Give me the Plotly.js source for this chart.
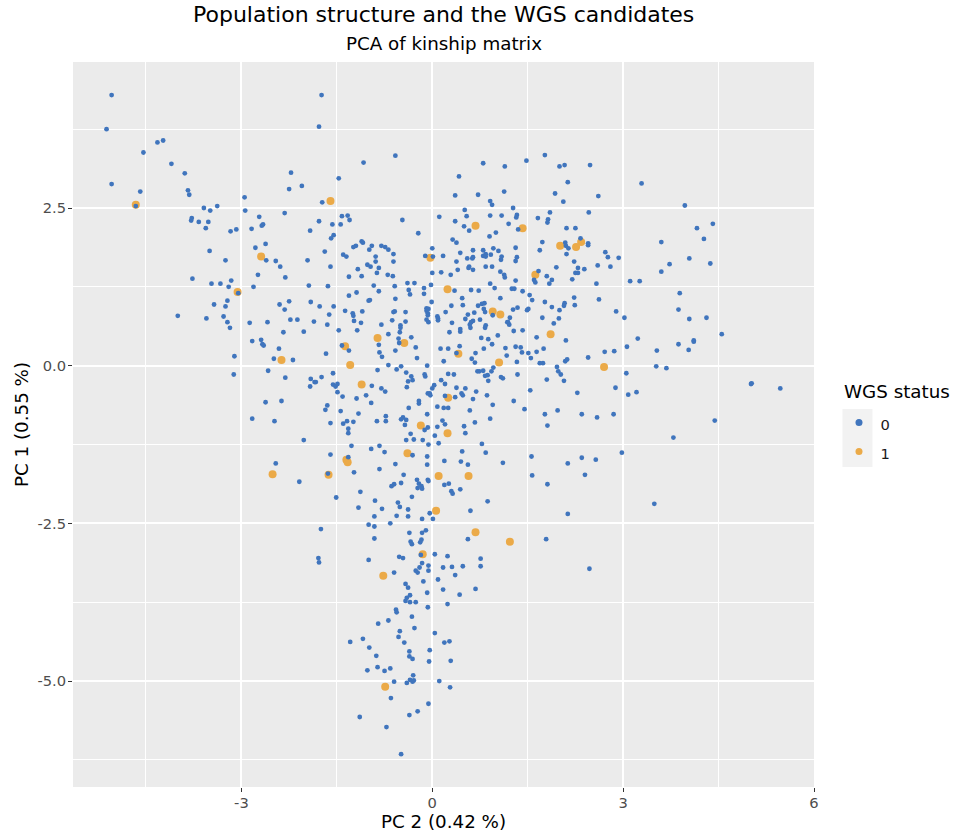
<!DOCTYPE html>
<html><head><meta charset="utf-8">
<script src="https://cdn.plot.ly/plotly-3.0.1.min.js"></script>
<style>html,body{margin:0;padding:0;background:#fff}</style></head>
<body><div id="chart" style="width:959px;height:833px"></div>
<script>
// [PC 2, PC 1] pairs
const status0 = [
[-5.04,4.29],[-5.12,3.75],[-4.32,3.54],[-4.23,3.57],[-4.54,3.38],[-4.10,3.20],[-3.89,3.05],[-5.04,2.88],[-4.59,2.76],[-3.84,2.78],[-3.82,2.71],[-4.66,2.53],[-3.59,2.50],[-3.49,2.46],[-3.38,2.53],[-2.95,2.67],[-2.94,2.46],[-3.78,2.34],[-3.79,2.30],[-3.67,2.28],[-3.52,2.28],[-3.56,2.18],[-3.17,2.13],[-3.08,2.16],[-2.84,2.17],[-2.72,2.36],[-2.66,2.24],[-2.68,2.22],[-2.32,2.42],[-2.22,3.06],[-2.25,2.80],[-2.05,2.85],[-1.74,4.29],[-1.78,3.79],[-1.73,2.59],[-1.78,2.29],[-1.92,2.14],[-2.62,1.93],[-2.78,1.87],[-3.50,1.82],[-3.25,1.67],[-2.61,1.67],[-2.46,1.66],[-1.96,1.67],
[-0.58,3.33],[-1.08,3.22],[-1.47,2.97],[0.80,3.21],[1.14,3.16],[0.42,3.00],[0.36,2.70],[0.72,2.71],[1.13,2.76],[0.91,2.61],[0.94,2.55],[1.27,2.50],[0.51,2.47],[0.54,2.37],[0.11,2.36],[0.36,2.29],[0.91,2.38],[1.09,2.38],[1.33,2.39],[1.32,2.35],[0.50,2.21],[0.58,2.14],[1.00,2.11],[1.20,2.25],[1.35,2.16],[0.90,2.05],[0.32,2.00],[0.38,1.95],[0.00,1.86],[-0.11,1.74],[0.01,1.73],[0.17,1.74],[0.44,1.79],[0.64,1.83],[0.38,1.65],[0.55,1.70],[0.64,1.72],[0.63,1.70],[0.80,1.83],[0.80,1.74],[0.84,1.77],[0.84,1.73],[0.92,1.76],[0.96,1.86],[1.04,1.82],[1.09,1.73],[1.08,1.68],[1.31,1.87],[1.33,1.72],[1.31,1.66],[0.58,1.57],[0.57,1.55],[0.84,1.57],[0.94,1.57],[0.40,1.52],[0.64,1.52],
[-1.42,2.37],[-1.33,2.38],[-1.30,2.31],[-1.57,2.24],[-1.44,2.24],[-0.47,2.31],[-0.22,2.10],[-1.55,2.07],[-1.59,2.02],[-1.69,1.81],[-1.11,1.97],[-1.09,1.95],[-1.20,1.90],[-1.24,1.88],[-0.95,1.90],[-0.99,1.84],[-0.80,1.90],[-0.74,1.88],[-0.69,1.84],[-0.61,1.77],[-0.89,1.73],[-1.40,1.76],[-1.35,1.73],[-0.89,1.65],[-0.61,1.65],[-1.02,1.60],[-0.97,1.57],[-0.84,1.55],[-1.60,1.57],[-1.17,1.53],
[1.48,3.25],[1.77,3.34],[2.00,3.16],[2.08,3.18],[2.48,3.18],[2.13,2.91],[3.29,2.89],[1.93,2.73],[2.06,2.60],[2.61,2.69],[3.97,2.54],[1.85,2.43],[2.46,2.43],[1.66,2.34],[1.82,2.32],[1.81,2.27],[2.11,2.18],[2.25,2.18],[4.16,2.18],[4.41,2.25],[4.27,2.01],[3.60,1.96],[2.33,2.02],[2.09,1.95],[2.10,1.90],[2.14,1.86],[2.45,1.94],[2.45,1.91],[1.73,1.96],[1.69,1.83],[2.11,1.77],[2.72,1.80],[2.76,1.72],[2.93,1.71],[4.04,1.70],[3.73,1.61],[4.37,1.62],[2.23,1.65],[2.29,1.55],[2.39,1.53],[2.60,1.59],[2.80,1.57],[1.95,1.56],[1.67,1.50],[3.60,1.49],[2.25,1.47],[2.29,1.47],[1.80,1.42],[1.88,1.36],[2.20,1.37],[1.60,1.36],[1.62,1.32],[1.84,1.30],[1.31,1.35],[2.58,1.30],[3.11,1.34],[3.26,1.34],[1.25,1.22],[1.29,1.22],[1.42,1.18],[1.53,1.12],[1.57,1.04],[3.89,1.15],[2.23,1.08],[2.62,1.05],[1.77,1.01],[2.08,0.99],[2.07,0.95],[2.24,0.96],[1.88,0.93],[1.34,0.92],[1.27,0.89],[1.51,0.90],[1.49,0.88],[2.00,0.88],[2.89,0.86],[3.87,0.89],[3.02,0.76],[4.04,0.74],[4.31,0.76],[1.73,0.76],[1.99,0.75],[1.22,0.76],[1.19,0.69],[1.91,0.67],[1.28,0.55],[1.42,0.56],[4.55,0.50],[1.64,0.45],[3.23,0.43],[2.10,0.40],[4.11,0.40],
[-3.77,1.38],[-3.47,1.30],[-3.33,1.30],[-3.16,1.35],[-3.20,1.25],[-3.05,1.15],[-2.81,1.25],[-2.74,1.44],[-2.39,1.57],[-2.31,1.40],[-1.94,1.27],[-1.64,1.26],[-3.22,1.03],[-3.43,0.97],[-3.25,0.94],[-4.00,0.79],[-3.55,0.75],[-3.28,0.78],[-3.22,0.69],[-3.18,0.60],[-2.87,0.68],[-2.59,0.69],[-2.40,0.97],[-2.32,0.89],[-2.25,1.02],[-1.91,1.01],[-1.77,0.94],[-1.55,0.94],[-1.62,0.81],[-1.86,0.70],[-1.65,0.65],[-2.23,0.73],[-2.12,0.73],[-2.34,0.53],[-2.02,0.54],[-1.47,0.56],[-2.83,0.39],[-2.69,0.41],[-2.67,0.34],[-2.65,0.32],[-2.41,0.27],[-1.67,0.19],[-3.11,0.15],[-2.49,0.11],[-2.19,0.09],[-3.12,-0.14],[-2.58,-0.08],[-2.31,-0.19],[-1.91,-0.21],[-1.74,-0.18],[-1.56,-0.12],[-1.85,-0.26],[-1.83,-0.26],[-1.92,-0.33],[-1.56,-0.30],[-1.52,-0.33],[-1.49,-0.29],
[-0.87,1.47],[-1.11,1.42],[-1.31,1.41],[-0.70,1.44],[-0.62,1.42],[-0.92,1.27],[-0.59,1.26],[-0.39,1.31],[-0.28,1.31],[-0.37,1.20],[-0.35,1.13],[-0.13,1.23],[-0.13,1.14],[-0.02,1.28],[0.00,1.47],[0.14,1.48],[0.29,1.44],[1.07,1.49],[1.13,1.44],[1.14,1.40],[0.35,1.19],[0.61,1.20],[0.73,1.19],[0.91,1.30],[0.98,1.23],[1.07,1.07],[0.47,1.07],[0.48,0.96],[0.30,0.95],[0.72,0.95],[0.78,0.98],[0.82,0.99],[0.81,0.90],[0.83,0.85],[0.95,0.80],[0.21,0.85],[0.56,0.81],[0.66,0.84],[0.52,0.74],[0.64,0.71],[0.61,0.69],[0.59,0.65],[0.60,0.60],[0.75,0.73],[0.84,0.64],[0.83,0.60],[0.31,0.68],[0.44,0.58],[0.44,0.54],[0.27,0.53],[1.18,0.69],[1.21,0.65],[1.03,0.48],[0.77,0.44],[0.88,0.42],[0.94,0.34],[0.81,0.27],[1.15,0.28],[1.31,0.30],[1.17,0.16],[0.68,0.20],[0.62,0.11],[0.67,0.05],[0.43,0.31],[0.13,0.27],[0.25,0.27],[0.38,0.20],[0.18,0.07],[0.96,-0.03],[0.71,-0.09],[0.74,-0.09],[0.80,-0.08],[0.93,-0.09],[0.83,-0.16],[0.87,-0.15],[0.88,-0.24],[1.08,-0.18],[1.11,-0.20],[1.34,-0.14],[0.25,-0.13],[0.34,-0.14],[0.14,-0.23],[0.20,-0.29],[0.38,-0.35],[0.52,-0.36],[0.03,-0.31],[-0.40,-0.34],[-0.33,-0.17],[-0.31,-0.23],[-0.38,-0.25],[-0.12,-0.14],[-0.11,-0.17],[-0.08,0.00],[-0.24,0.12],[-0.26,0.29],[-0.33,0.45],[-0.53,0.43],[-0.52,0.36],[-0.58,0.24],[-0.69,0.50],[-0.84,0.33],[-0.83,0.21],[-0.79,0.14],[-1.18,0.56],[-1.42,0.32],[-1.31,0.24],[-0.95,-0.32],[-0.69,0.01],[-0.49,-0.01],[-0.56,-0.06],[-0.86,-0.07],[-0.41,-0.11],[-0.80,-0.36],[-1.12,0.68],[-0.80,0.65],[-1.37,0.87],[-1.25,0.83],[-1.24,0.79],[-1.23,0.71],[-1.10,0.86],[-1.31,1.11],[-1.19,1.16],[-0.84,1.18],[-1.00,1.03],[-0.98,1.04],[-0.58,1.06],[-0.61,0.85],[-0.59,0.86],[-0.42,0.85],[-0.63,0.72],[-0.42,0.70],[-0.50,0.64],[-0.50,0.60],[-0.51,0.53],[-0.09,0.91],[-0.06,0.90],[-0.09,0.87],[-0.07,0.83],[-0.07,0.80],[-0.09,0.73],[-0.06,0.69],[-0.01,1.01],[0.08,0.78],[0.09,0.75],[0.09,0.72],
[-1.49,-0.42],[-1.41,-0.49],[-1.19,-0.52],[-1.04,-0.47],[-0.74,-0.41],[-0.96,-0.59],[-2.62,-0.58],[-2.37,-0.56],[-1.65,-0.63],[-1.68,-0.70],[-1.44,-0.72],[-1.16,-0.76],[-0.21,-0.56],[-0.21,-0.60],[-0.37,-0.67],[-0.07,-0.44],[-0.73,-0.80],[-0.73,-0.88],[-0.87,-0.88],[-0.46,-0.82],[-0.49,-0.85],[-0.41,-0.86],[-0.43,-0.94],[-0.08,-0.77],[-0.12,-1.02],[-0.07,-0.98],[-2.83,-0.84],[-2.48,-0.88],[-1.60,-0.91],[-1.40,-0.92],[-1.34,-0.88],[-1.24,-0.89],[-1.32,-1.00],[-1.32,-1.07],[-2.02,-1.18],[-0.34,-1.08],[-0.41,-1.18],[-0.29,-1.17],[-0.15,-1.18],[-0.06,-1.25],[-1.27,-1.27],[-0.96,-1.32],[-0.83,-1.27],[-0.75,-1.37],[-0.31,-1.42],[-0.08,-1.44],[-1.60,-1.41],[-1.32,-1.45],[-2.46,-1.55],[-0.58,-1.56],[-0.08,-1.57],[-0.83,-1.64],[-1.23,-1.69],[-1.64,-1.71],[-2.09,-1.84],[-0.45,-1.73],[-0.49,-1.86],[-0.60,-1.88],[-0.64,-1.91],[-0.24,-1.81],[-0.21,-1.87],[-0.07,-1.81],[-0.06,-1.83],[-0.23,-1.94],[-0.17,-1.91],[-0.16,-1.95],[-0.32,-2.08],[-1.13,-2.00],[-1.51,-2.09],[-0.90,-2.14],[-0.54,-2.17],[-0.51,-2.24],[-1.16,-2.25],[-0.79,-2.27],[-0.38,-2.28],
[2.07,-0.24],[1.80,-0.22],[0.00,-0.36],[-0.04,-0.44],[-0.03,-0.47],[0.20,-0.48],[0.36,-0.50],[0.46,-0.44],[0.48,-0.47],[0.69,-0.41],[0.86,-0.47],[0.64,-0.53],[0.95,-0.62],[1.28,-0.56],[1.54,-0.39],[2.28,-0.43],[1.45,-0.69],[1.77,-0.77],[1.97,-0.71],[2.35,-0.77],[2.59,-0.82],[2.85,-0.77],[1.81,-0.95],[0.08,-0.65],[0.18,-0.67],[0.25,-0.67],[0.59,-0.71],[0.91,-0.84],[0.16,-0.87],[0.20,-0.93],[0.67,-0.90],[0.50,-0.96],[0.08,-0.97],[0.52,-1.07],[0.04,-1.11],[0.10,-1.23],[0.78,-1.24],[0.47,-1.36],[0.84,-1.38],[0.19,-1.51],[0.45,-1.52],[0.56,-1.57],[1.11,-1.54],[1.56,-1.44],[2.13,-1.55],[2.35,-1.46],[2.57,-1.49],[1.57,-1.74],[2.40,-1.73],[1.81,-1.88],[0.19,-1.89],[0.26,-1.87],[0.44,-1.96],[0.30,-1.99],[0.32,-2.03],[0.87,-2.15],[0.60,-2.30],
[-0.04,-2.34],[-0.91,-2.39],[-0.56,-2.38],[-0.38,-2.39],[-0.16,-2.43],[0.01,-2.43],[2.13,-2.35],[-1.00,-2.52],[-0.91,-2.55],[-0.66,-2.50],[-1.75,-2.59],[-0.36,-2.65],[-0.16,-2.65],[-0.10,-2.61],[0.56,-2.75],[1.79,-2.75],[-0.91,-2.74],[-0.34,-2.79],[-0.32,-2.83],[-0.17,-2.76],[-0.19,-2.80],[-0.18,-3.00],[0.04,-2.99],[0.24,-3.02],[-0.52,-3.03],[-0.46,-3.05],[-1.79,-3.05],[-1.78,-3.12],[-1.00,-3.08],[0.76,-3.06],[0.76,-3.18],[-0.16,-3.13],[-0.06,-3.17],[-0.20,-3.20],[0.17,-3.20],[0.31,-3.19],[0.48,-3.18],[2.47,-3.22],[-0.26,-3.25],[-0.23,-3.28],[-0.06,-3.25],[-0.60,-3.28],[0.36,-3.32],[-0.14,-3.42],[0.09,-3.39],[-0.42,-3.46],[-0.38,-3.52],[0.17,-3.55],[0.68,-3.54],[-0.08,-3.60],[0.43,-3.63],[-0.35,-3.64],[-0.40,-3.68],[-0.42,-3.73],[-0.35,-3.75],[-0.26,-3.75],[0.24,-3.78],[-0.07,-3.83],[-0.57,-3.87],
[-0.56,-3.91],[-0.32,-3.98],[-0.69,-4.04],[-0.85,-4.09],[-0.28,-4.16],[-0.51,-4.21],[0.04,-4.24],[-0.53,-4.30],[-1.09,-4.33],[-1.29,-4.38],[-0.44,-4.39],[0.19,-4.39],[0.27,-4.37],[-0.99,-4.47],[-0.36,-4.53],[-0.04,-4.51],[-0.88,-4.60],[-0.36,-4.61],[-0.31,-4.65],[-0.05,-4.69],[0.29,-4.68],[-0.86,-4.78],[-0.66,-4.80],[-1.02,-4.83],[-0.75,-4.84],[-0.30,-4.91],[-0.35,-4.98],[-0.29,-4.99],[-0.31,-5.01],[-0.60,-5.01],[-0.40,-5.03],[0.11,-5.00],[0.28,-5.10],[-0.65,-5.27],[-0.06,-5.36],[-0.23,-5.48],[-0.36,-5.54],[-1.14,-5.57],[-0.72,-5.73],[-0.49,-6.16],
[1.39,0.29],[1.41,0.21],[1.51,0.20],[1.64,0.22],[1.75,0.27],[1.55,0.12],[1.33,0.06],[1.69,0.04],[1.74,0.04],[1.96,-0.02],[2.09,0.07],[2.12,0.10],[2.45,0.13],[2.71,0.22],[2.86,0.23],[3.06,0.30],[3.53,0.24],[3.87,0.34],[4.11,0.38],[4.03,0.25],[3.52,-0.01],[3.68,-0.04],[3.05,-0.12],[1.98,-0.09],[2.02,-0.14],[2.88,-0.35],[3.08,-0.46],[3.21,-0.42],[5.01,-0.29],[5.02,-0.28],[5.47,-0.36],[4.44,-0.87],[3.79,-1.14],[2.98,-1.38],[3.49,-2.19]
];
const status1 = [
[-4.66,2.55],[-2.69,1.73],[-1.60,2.61],[0.68,2.22],[-0.03,1.71],[1.42,2.18],[2.34,1.96],[2.26,1.88],[2.01,1.90],[1.62,1.44],[-3.06,1.17],[-2.37,0.09],[0.24,1.21],[0.95,0.86],[1.07,0.81],[1.86,0.50],[0.41,0.19],[1.05,0.05],[-0.44,0.36],[-0.86,0.44],[-1.37,0.31],[-1.29,0.01],[-1.11,-0.30],[-0.18,-0.95],[-0.39,-1.39],[-1.35,-1.49],[-1.33,-1.53],[-2.51,-1.72],[-1.63,-1.73],[0.25,-0.51],[0.24,-1.07],[0.10,-1.75],[0.57,-1.75],[0.06,-2.30],[0.68,-2.64],[1.22,-2.79],[-0.15,-2.99],[-0.77,-3.33],[-0.74,-5.09],[2.70,-0.02]
];
const xTicks = [-3,0,3,6];
const xTickText = ['-3','0','3','6'];
const yTicks = [2.5,0,-2.5,-5];
const yTickText = ['2.5','0.0','-2.5','-5.0'];
const xMinor = [-4.5,-1.5,1.5,4.5];
const yMinor = [3.75,1.25,-1.25,-3.75,-6.25];
const font = '"DejaVu Sans", sans-serif';
const COLOR0 = '#4075bd', COLOR1 = '#ebaa48';
const trace = (pts,name,color,size) => ({type:'scatter',mode:'markers',name,legendgroup:name,showlegend:false,
  x:pts.map(p=>p[0]),y:pts.map(p=>p[1]),
  marker:{color,size,line:{width:0}},hoverinfo:'x+y'});
const key = (name,color) => ({type:'scatter',mode:'markers',legendgroup:name,
  name:'<span style="font-size:14.7px">'+name+'</span>',
  x:[null],y:[null],marker:{color,size:7,line:{width:0}},hoverinfo:'skip'});
const data = [trace(status1,'1',COLOR1,8),trace(status0,'0',COLOR0,4.8),key('0',COLOR0),key('1',COLOR1)];
const axis = (vals,text,minor,range,title,standoff,labelOff) => ({
  range,tickmode:'array',tickvals:vals,ticktext:text,automargin:false,
  zeroline:false,showline:false,showgrid:true,gridcolor:'#ffffff',gridwidth:2,
  ticks:'outside',ticklen:4,tickwidth:1,tickcolor:'#333333',ticklabelstandoff:labelOff,
  tickfont:{family:font,size:14.7,color:'#4d4d4d'},
  minor:{tickmode:'array',tickvals:minor,showgrid:true,gridcolor:'#ffffff',gridwidth:1,ticks:''},
  title:{text:title,font:{family:font,size:18.3,color:'#000'},standoff}
});
const layout = {
  width:959,height:833,paper_bgcolor:'#fff',plot_bgcolor:'#ebebeb',showlegend:true,
  margin:{l:73,r:144.5,t:62,b:46,pad:0,autoexpand:false},
  font:{family:font},
  xaxis:axis(xTicks,xTickText,xMinor,[-5.647,6.0],'PC 2 (0.42 %)',2,-2),
  yaxis:axis(yTicks,yTickText,yMinor,[-6.68,4.815],'PC 1 (0.55 %)',3,-1),
  legend:{traceorder:'normal',x:1.0317,xanchor:'left',y:0.5295,yanchor:'top',
    bgcolor:'rgba(0,0,0,0)',itemsizing:'trace',tracegroupgap:0,itemwidth:33,
    borderwidth:0,font:{family:font,size:20,color:'#1a1a1a'}},
  shapes:[{type:'rect',xref:'paper',yref:'paper',layer:'below',
    x0:1.0384,x1:1.0789,y0:0.4414,y1:0.5214,fillcolor:'#f2f2f2',line:{width:0}}],
  annotations:[
    {xref:'paper',yref:'paper',x:0.5,y:1.0,yshift:48,xanchor:'center',yanchor:'middle',showarrow:false,
     text:'Population structure and the WGS candidates',font:{family:font,size:22,color:'#000'}},
    {xref:'paper',yref:'paper',x:0.5,y:1.0,yshift:19,xanchor:'center',yanchor:'middle',showarrow:false,
     text:'PCA of kinship matrix',font:{family:font,size:18.3,color:'#000'}},
    {xref:'paper',yref:'paper',x:1.0383,y:0.5462,xanchor:'left',yanchor:'middle',showarrow:false,
     text:'WGS status',font:{family:font,size:18.3,color:'#000'}}
  ]
};
Plotly.newPlot('chart',data,layout,{displayModeBar:false,responsive:false});
</script></body></html>
